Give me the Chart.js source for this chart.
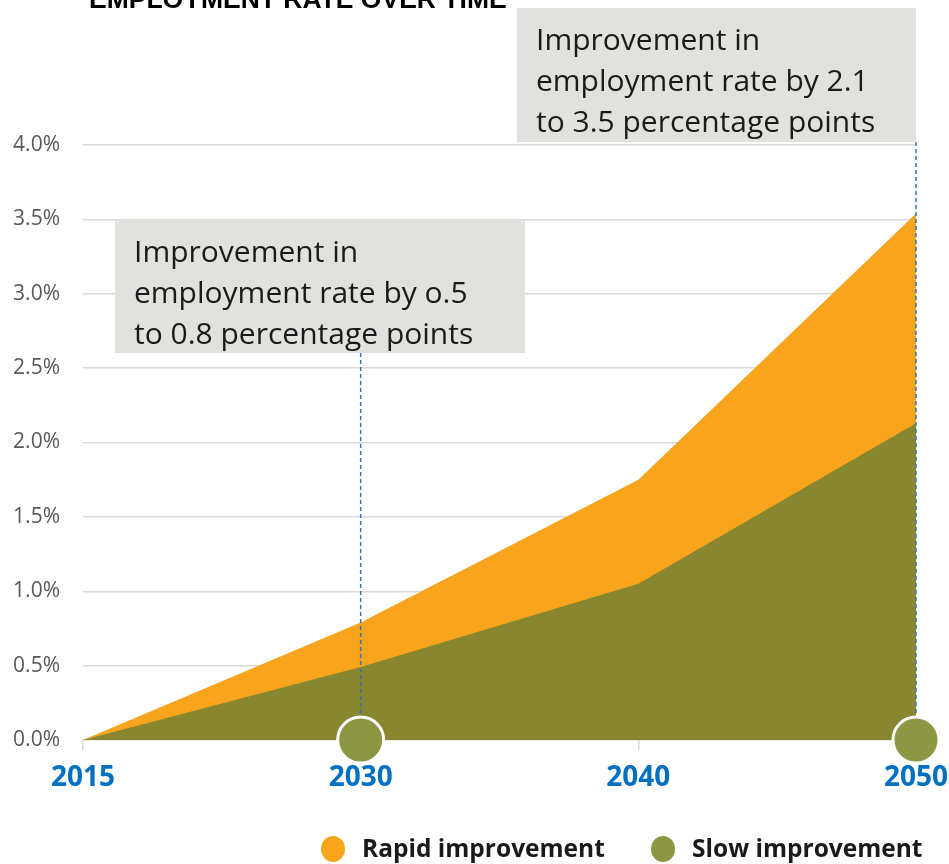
<!DOCTYPE html>
<html>
<head>
<meta charset="utf-8">
<script src="https://cdn.jsdelivr.net/npm/chart.js@4"></script>
<style>
  html, body { margin: 0; padding: 0; background: #fff; }
  #wrap { width: 949px; height: 864px; position: relative; }
</style>
</head>
<body>
<div id="wrap"><canvas id="chart" width="949" height="864"></canvas></div>
<script>
// chart data
const years = ['2015', '2030', '2040', '2050'];
const rapidValues = [0, 0.79, 1.75, 3.54];
const slowValues = [0, 0.49, 1.05, 2.13];
const markerValues = [null, 0, null, 0];
const yTicks = [0, 0.5, 1, 1.5, 2, 2.5, 3, 3.5, 4];
const seriesNames = ['Rapid improvement', 'Slow improvement'];
const titleText = 'EMPLOYMENT RATE OVER TIME';
const noteLeft = ['Improvement in', 'employment rate by o.5', 'to 0.8 percentage points'];
const noteRight = ['Improvement in', 'employment rate by 2.1', 'to 3.5 percentage points'];

const ORANGE = '#F8A51D';
const OLIVE = '#88862F';
const DOT = '#8D9642';
const FONT = '"Open Sans", Lato, sans-serif';

// gray note boxes, dashed guides, title and legend
const extras = {
    id: 'extras',
    afterDraw(chart) {
        const ctx = chart.ctx;
        const x = chart.scales.x;
        const y = chart.scales.y;
        ctx.save();

        ctx.fillStyle = '#000';
        ctx.font = 'bold 26.5px "Liberation Sans", Arial, sans-serif';
        ctx.textBaseline = 'alphabetic';
        ctx.fillText(titleText, 89, 8);

        const boxes = [
            { idx: 1, left: 115, top: 220, w: 410, h: 133, lines: noteLeft },
            { idx: 3, left: 517, top: 8, w: 399, h: 134, lines: noteRight }
        ];
        boxes.forEach(b => {
            ctx.fillStyle = '#E1E1DD';
            ctx.fillRect(b.left, b.top, b.w, b.h);
            ctx.fillStyle = '#1a1a1a';
            ctx.font = '30px ' + FONT;
            ctx.textBaseline = 'middle';
            b.lines.forEach((t, i) => ctx.fillText(t, b.left + 19, b.top + 33 + i * 41));

            const px = x.getPixelForValue(b.idx);
            ctx.strokeStyle = '#2E75B6';
            ctx.lineWidth = 1.5;
            ctx.setLineDash([4, 3]);
            ctx.beginPath();
            ctx.moveTo(px, b.top + b.h);
            ctx.lineTo(px, y.getPixelForValue(0) - 24);
            ctx.stroke();
            ctx.setLineDash([]);
        });

        // marker circles on the axis
        [1, 3].forEach(i => {
            const px = x.getPixelForValue(i);
            const py = y.getPixelForValue(markerValues[i]);
            ctx.beginPath();
            ctx.arc(px, py, 23, 0, Math.PI * 2);
            ctx.fillStyle = DOT;
            ctx.fill();
            ctx.lineWidth = 3;
            ctx.strokeStyle = '#fff';
            ctx.stroke();
        });

        // legend
        const items = [
            { x: 333, color: ORANGE, label: seriesNames[0] },
            { x: 663, color: DOT, label: seriesNames[1] }
        ];
        items.forEach(it => {
            ctx.beginPath();
            ctx.ellipse(it.x, 849, 12, 13, 0, 0, Math.PI * 2);
            ctx.fillStyle = it.color;
            ctx.fill();
            ctx.fillStyle = '#1a1a1a';
            ctx.font = 'bold 24.5px ' + FONT;
            ctx.textBaseline = 'middle';
            ctx.fillText(it.label, it.x + 29, 850);
        });
        ctx.restore();
    }
};

new Chart(document.getElementById('chart').getContext('2d'), {
    type: 'line',
    data: {
        labels: years,
        datasets: [{
            label: seriesNames[0],
            data: rapidValues,
            backgroundColor: ORANGE,
            borderWidth: 0,
            fill: 'origin',
            pointRadius: 0,
            order: 2
        }, {
            label: seriesNames[1],
            data: slowValues,
            backgroundColor: OLIVE,
            borderWidth: 0,
            fill: 'origin',
            pointRadius: 0,
            order: 1
        }]
    },
    options: {
        responsive: false,
        animation: false,
        layout: { padding: { top: 145, right: 33, left: 0, bottom: 0 } },
        plugins: { legend: { display: false }, tooltip: { enabled: false } },
        scales: {
            x: {
                offset: false,
                grid: { drawOnChartArea: false, tickLength: 10, color: '#D9D9D9', lineWidth: 1.5 },
                border: { display: false },
                ticks: { color: '#0070C0', font: { family: FONT, size: 28, weight: 'bold' }, padding: 11, maxRotation: 0 },
                afterFit: s => { s.height = 124; s.paddingLeft = 0; s.paddingRight = 0; }
            },
            y: {
                min: 0,
                max: 4,
                afterBuildTicks: s => { s.ticks = yTicks.map(v => ({ value: v })); },
                grid: { drawTicks: false, color: '#D9D9D9', lineWidth: 1.5 },
                border: { display: false },
                ticks: {
                    color: '#595959',
                    font: { family: FONT, size: 21 },
                    padding: 23,
                    callback: v => v.toFixed(1) + '%'
                },
                afterFit: s => { s.width = 83; s.paddingTop = 0; s.paddingBottom = 0; }
            }
        }
    },
    plugins: [extras]
});
</script>
</body>
</html>
